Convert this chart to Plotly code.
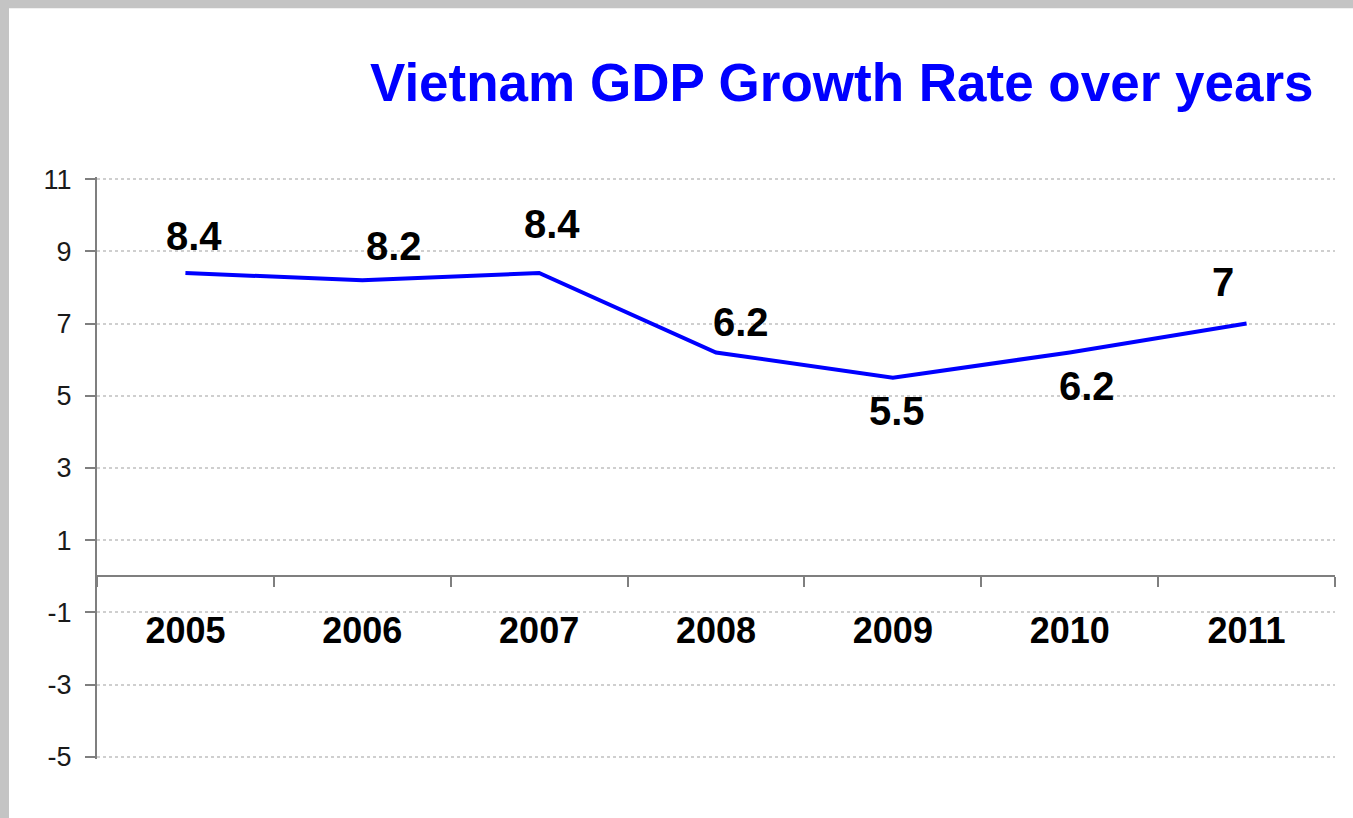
import plotly.graph_objects as go

years = ["2005", "2006", "2007", "2008", "2009", "2010", "2011"]
growth = [8.4, 8.2, 8.4, 6.2, 5.5, 6.2, 7]
y_ticks = [-5, -3, -1, 1, 3, 5, 7, 9, 11]
y_tick_text = ["-5", "-3", "-1", "1", "3", "5", "7", "9", "11"]

# pixel offsets of each value label from its point (dx right, dy up)
label_offsets = [(9, 37), (32, 34), (13, 49), (25, 30), (4, -33), (17, -34), (-24, 42)]

W, H = 1353, 818
PAD = 0.06  # small range padding so the end gridlines are drawn
PX_PER_UNIT = 578 / 16
L, R = 97, 18
T, B = 179 - PAD * PX_PER_UNIT, 61 - PAD * PX_PER_UNIT
PW, PH = W - L - R, H - T - B
FONT = "Arial, Liberation Sans, sans-serif"
BLUE = "#0000FF"
AXIS_GREY = "#7f7f7f"

fig = go.Figure()
fig.add_trace(go.Scatter(
    x=years, y=growth, mode="lines",
    line=dict(color=BLUE, width=4),
    hoverinfo="skip", showlegend=False,
))

# value labels next to each point (category index on x)
for i, (v, (dx, dy)) in enumerate(zip(growth, label_offsets)):
    fig.add_annotation(
        x=i, y=v, xref="x", yref="y", text=f"<b>{v:g}</b>", showarrow=False,
        xshift=dx, yshift=dy,
        font=dict(family=FONT, size=40, color="black"),
    )

# slide title
fig.add_annotation(
    x=(1316 - L) / PW, y=1 + (T - 82) / PH, xref="paper", yref="paper",
    xanchor="right", yanchor="middle", showarrow=False,
    text="<b>Vietnam GDP Growth Rate over years</b>",
    font=dict(family=FONT, size=53, color=BLUE),
)

# white slide panel on a grey frame
fig.add_shape(
    type="rect", xref="paper", yref="paper", layer="below",
    x0=-(L - 9) / PW, x1=1 + (R + 4) / PW,
    y0=-(B + 4) / PH, y1=1 + (T - 8) / PH,
    fillcolor="white", line=dict(width=0),
)

fig.update_layout(
    width=W, height=H,
    margin=dict(l=L, r=R, t=T, b=B),
    paper_bgcolor="#c4c4c4", plot_bgcolor="rgba(0,0,0,0)",
    font=dict(family=FONT),
    xaxis=dict(
        type="category", anchor="free", position=(5 + PAD) / (16 + 2 * PAD),
        tickson="boundaries", ticks="outside", ticklen=10, tickwidth=2,
        tickcolor=AXIS_GREY, showline=True, linecolor=AXIS_GREY, linewidth=2,
        showgrid=False, ticklabelstandoff=22,
        tickfont=dict(family=FONT, size=36, color="black", weight="bold"),
        range=[-0.5, 6.5], fixedrange=True,
    ),
    yaxis=dict(
        range=[-5 - PAD, 11 + PAD], tickvals=y_ticks, ticktext=y_tick_text,
        ticks="outside", ticklen=10, tickwidth=2, tickcolor=AXIS_GREY,
        showline=True, linecolor=AXIS_GREY, linewidth=2,
        showgrid=True, gridcolor="#cfcfcf", gridwidth=1.5, griddash="dot",
        zeroline=False, ticklabelstandoff=8,
        tickfont=dict(family=FONT, size=27, color="#1a1a1a"),
        fixedrange=True,
    ),
)

fig.write_html("out.html")
